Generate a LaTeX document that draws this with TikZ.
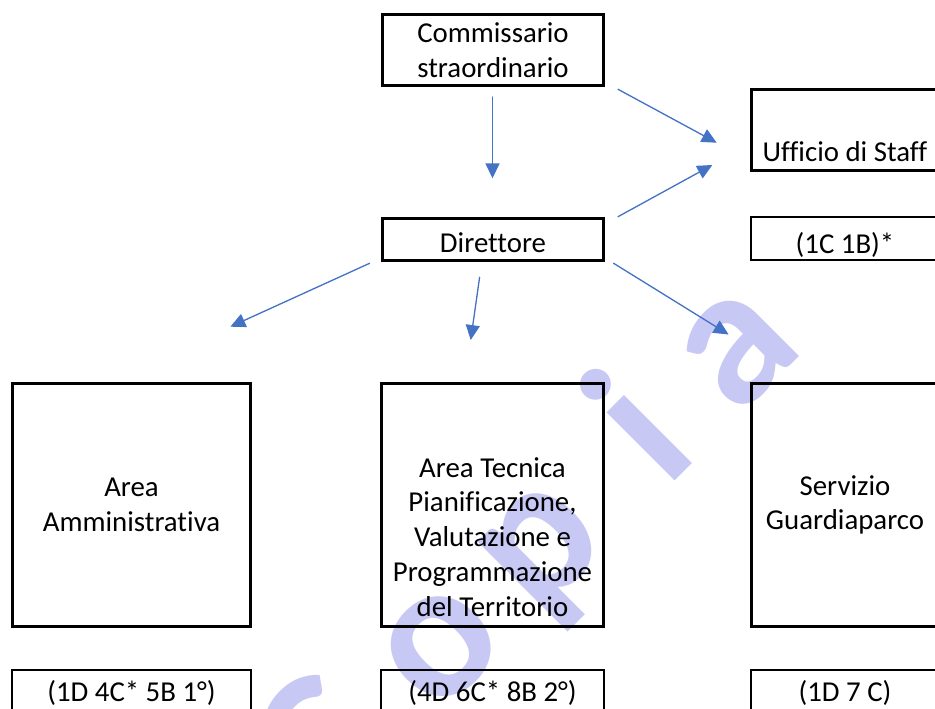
\documentclass[tikz,border=0pt]{standalone}
\usepackage{fontspec}
\setmainfont{Carlito}[Ligatures={NoCommon,NoContextual}]
\usepackage{tkz-euclide}
\usetikzlibrary{arrows.meta}

\definecolor{arrowblue}{RGB}{68,114,196}
\definecolor{stampblue}{RGB}{200,200,245}

\begin{document}
\begin{tikzpicture}[
    orgbox/.style={draw, line width=1.7pt, inner sep=2pt, align=center,
      font=\fontsize{16.4}{19.8}\selectfont},
    numbox/.style={orgbox, line width=1.15pt},
    arr/.style={arrowblue, line width=0.75pt, -{Triangle[length=8.5pt,width=8pt]}},
    stamp/.style={stampblue, rotate=45, anchor=base, inner sep=0pt,
      font=\fontsize{113}{113}\selectfont\bfseries}
  ]
                    \useasboundingbox (0,0) rectangle (18.7,-14.18);
                    \clip (0,0) rectangle (18.7,-14.18);

                    % watermark
                    \node[stamp] (st1) at (7.318,-15.803) {C};
                    \node[stamp] (st2) at (9.51,-13.61) {o};
                    \node[stamp] (st3) at (11.503,-11.617) {p};
                    \node[stamp] (st4) at (13.667,-9.453) {i};
                    \node[stamp] (st5) at (15.435,-7.685) {a};

                    \node[orgbox, minimum width=4.42cm, minimum height=1.42cm] (comm) at (9.86,-1.0) {Commissario\\straordinario};
                    \node[orgbox, minimum width=4.42cm, minimum height=0.84cm, text height=0.52cm, text depth=0pt] (dir) at (9.86,-4.79) {Direttore};
                    \node[orgbox, minimum width=3.74cm, minimum height=1.62cm] (uff) at (16.9,-2.6) {\rule{0pt}{1.28cm}Ufficio di Staff};
                    \node[numbox, minimum width=3.76cm, minimum height=0.86cm, text height=0.6cm, text depth=0pt] (uffnum) at (16.9,-4.77) {(1C 1B)*};

                    \node[orgbox, minimum width=4.76cm, minimum height=4.86cm] (amm) at (2.63,-10.1) {Area\\Amministrativa};
                    \node[orgbox, minimum width=4.44cm, minimum height=4.86cm] (tec) at (9.85,-10.1) {\rule{0pt}{1.67cm}Area Tecnica\\Pianificazione,\\Valutazione e\\Programmazione\\del Territorio};
                    \node[orgbox, minimum width=3.74cm, minimum height=4.86cm] (serv) at (16.9,-10.1) {Servizio\\Guardiaparco};

                    \node[numbox, minimum width=4.78cm, minimum height=0.92cm] (ammnum) at (2.63,-13.86) {(1D 4C* 5B 1°)};
                    \node[numbox, minimum width=4.46cm, minimum height=0.92cm] (tecnum) at (9.85,-13.86) {(4D 6C* 8B 2°)};
                    \node[numbox, minimum width=3.76cm, minimum height=0.92cm] (servnum) at (16.9,-13.86) {(1D 7 C)};

                    % arrows
                    \tkzDefPoint(9.85,-1.94){CD1}
                    \tkzDefPoint(9.85,-3.566){CD2}
                    \tkzDefPoint(12.36,-1.786){CU1}
                    \tkzDefPoint(14.334,-2.854){CU2}
                    \tkzDefPoint(12.36,-4.334){DU1}
                    \tkzDefPoint(14.246,-3.30){DU2}
                    \tkzDefPoint(7.392,-5.266){DA1}
                    \tkzDefPoint(4.608,-6.534){DA2}
                    \tkzDefPoint(9.592,-5.546){DT1}
                    \tkzDefPoint(9.414,-6.80){DT2}
                    \tkzDefPoint(12.272,-5.266){DS1}
                    \tkzDefPoint(14.572,-6.69){DS2}

                    \tkzDrawSegment[arr](CD1,CD2)
                    \tkzDrawSegment[arr](CU1,CU2)
                    \tkzDrawSegment[arr](DU1,DU2)
                    \tkzDrawSegment[arr](DA1,DA2)
                    \tkzDrawSegment[arr](DT1,DT2)
                    \tkzDrawSegment[arr](DS1,DS2)
\end{tikzpicture}
\end{document}
